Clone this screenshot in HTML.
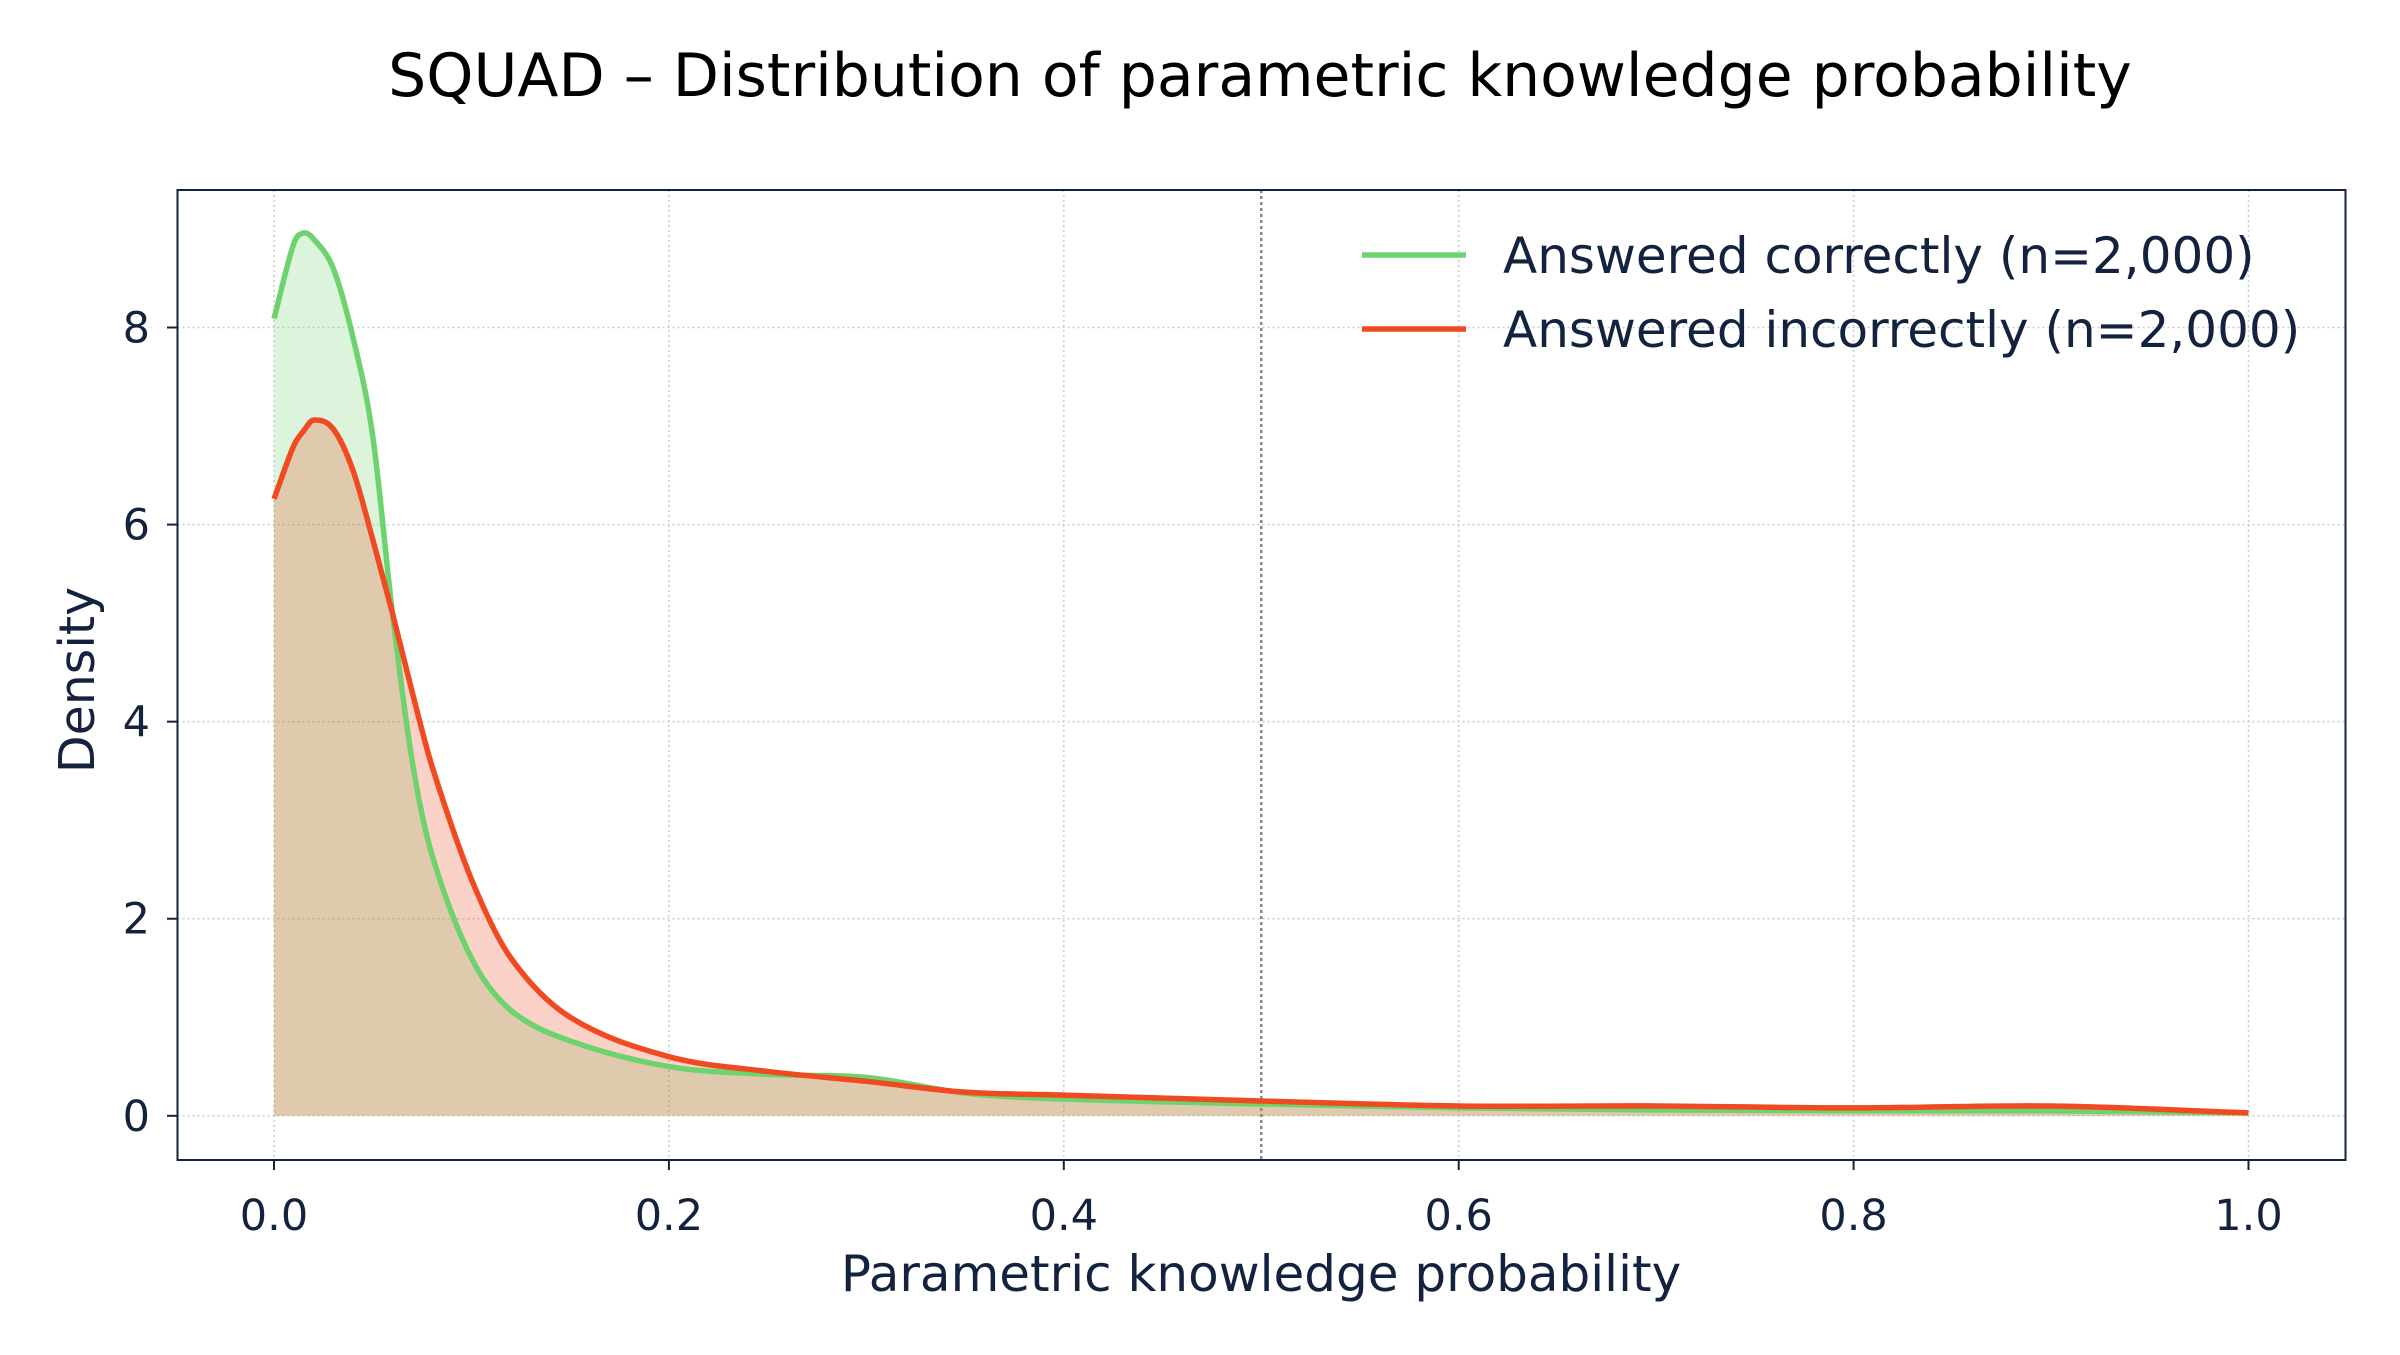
<!DOCTYPE html>
<html><head><meta charset="utf-8"><style>
html,body{margin:0;padding:0;background:#fff;}
svg text{font-family:"DejaVu Sans","Liberation Sans",sans-serif;fill:#13233f;}
</style></head><body>
<svg id="chart" width="2400" height="1350" viewBox="0 0 2400 1350" xmlns="http://www.w3.org/2000/svg">
<rect width="2400" height="1350" fill="#fff"/>
<text x="1260" y="96" font-size="60" text-anchor="middle" style="fill:#000">SQUAD – Distribution of parametric knowledge probability</text>
<g id="grid"></g>
<g id="areas"></g>
<g id="lines"></g>
<rect x="177.5" y="190" width="2168" height="970" fill="none" stroke="#13233f" stroke-width="2"/>
<g id="ticks"></g>
<text x="1261" y="1291" font-size="50" text-anchor="middle">Parametric knowledge probability</text>
<text x="0" y="0" font-size="49" text-anchor="middle" transform="translate(94,680) rotate(-90)">Density</text>
<g>
<line x1="1362" y1="255" x2="1466" y2="255" stroke="#6ed36e" stroke-width="5.5"/>
<text x="1503" y="273" font-size="50">Answered correctly (n=2,000)</text>
<line x1="1362" y1="329" x2="1466" y2="329" stroke="#f04a23" stroke-width="5.5"/>
<text x="1503" y="347" font-size="50">Answered incorrectly (n=2,000)</text>
</g>
</svg>
<script>
const xs = [0,0.01,0.015,0.02,0.03,0.04,0.05,0.06,0.07,0.08,0.1,0.12,0.15,0.2,0.25,0.3,0.35,0.4,0.5,0.6,0.7,0.8,0.9,1.0];
const correct = [8.09,8.85,8.96,8.9,8.6,7.9,6.9,5.1,3.6,2.65,1.6,1.07,0.76,0.5,0.42,0.39,0.23,0.17,0.12,0.08,0.06,0.05,0.05,0.03];
const incorrect = [6.26,6.8,6.95,7.06,6.97,6.55,5.85,5.1,4.3,3.55,2.4,1.6,1.0,0.6,0.45,0.35,0.24,0.21,0.15,0.1,0.1,0.08,0.1,0.03];
const xTicks = [0,0.2,0.4,0.6,0.8,1.0];
const yTicks = [0,2,4,6,8];
const xTickLabels = ["0.0","0.2","0.4","0.6","0.8","1.0"];
const yTickLabels = ["0","2","4","6","8"];
const threshold = 0.5;

const NS="http://www.w3.org/2000/svg";
const X = v => 274 + v*(2248.5-274);
const Y = v => 1115.8 - v*(1115.8-327.5)/8;
function mk(tag, attrs, parent){const e=document.createElementNS(NS,tag);for(const k in attrs)e.setAttribute(k,attrs[k]);parent.appendChild(e);return e;}
const grid=document.getElementById('grid'), ticks=document.getElementById('ticks');
xTicks.forEach((t,i)=>{
  const g=mk('line',{x1:X(t),x2:X(t),y1:190,y2:1160,stroke:'#cccccc','stroke-width':1.5,'stroke-dasharray':'2,3'},grid);
  
  
  const tk=mk('line',{x1:X(t),x2:X(t),y1:1160,y2:1170,stroke:'#13233f','stroke-width':2},ticks);
  
  
  const tx=mk('text',{x:X(t),y:1230,'font-size':43,'text-anchor':'middle'},ticks);tx.textContent=xTickLabels[i];
  
  
});
yTicks.forEach((t,i)=>{
  const g=mk('line',{x1:177.5,x2:2345.5,y1:Y(t),y2:Y(t),stroke:'#cccccc','stroke-width':1.5,'stroke-dasharray':'2,3'},grid);
  
  
  const tk=mk('line',{x1:167,x2:177.5,y1:Y(t),y2:Y(t),stroke:'#13233f','stroke-width':2},ticks);
  
  
  const tx=mk('text',{x:150,y:Y(t)+15,'font-size':43,'text-anchor':'end'},ticks);tx.textContent=yTickLabels[i];
  
  
});
const th=mk('line',{x1:X(threshold),x2:X(threshold),y1:190,y2:1160,stroke:'#888','stroke-width':2.5,'stroke-dasharray':'3,3'},grid);


function smooth(vals){
  const p=xs.map((x,i)=>[X(x),Y(vals[i])]);
  let d=`M${p[0][0]},${p[0][1]}`;
  for(let i=0;i<p.length-1;i++){
    const p0=p[i-1]||p[i],p1=p[i],p2=p[i+1],p3=p[i+2]||p2;
    const h=p2[0]-p1[0];
    const s1=(p2[1]-p0[1])/((p2[0]-p0[0])||1), s2=(p3[1]-p1[1])/((p3[0]-p1[0])||1);
    const c1=[p1[0]+h/3,p1[1]+s1*h/3];
    const c2=[p2[0]-h/3,p2[1]-s2*h/3];
    d+=` C${c1[0]},${c1[1]} ${c2[0]},${c2[1]} ${p2[0]},${p2[1]}`;
  }
  return d;
}
const areas=document.getElementById('areas'), lines=document.getElementById('lines');
[[correct,'#6ed36e','correct'],[incorrect,'#f04a23','incorrect']].forEach(([vals,col,name])=>{
  const d=smooth(vals);
  const a=mk('path',{d:d+` L${X(1)},${Y(0)} L${X(0)},${Y(0)} Z`,fill:col,'fill-opacity':0.25,stroke:'none'},areas);
  
  
});
[[correct,'#6ed36e','correct'],[incorrect,'#f04a23','incorrect']].forEach(([vals,col,name])=>{
  const l=mk('path',{d:smooth(vals),fill:'none',stroke:col,'stroke-width':5.5,'stroke-linejoin':'round'},lines);
  
  
});
</script>
</body></html>
